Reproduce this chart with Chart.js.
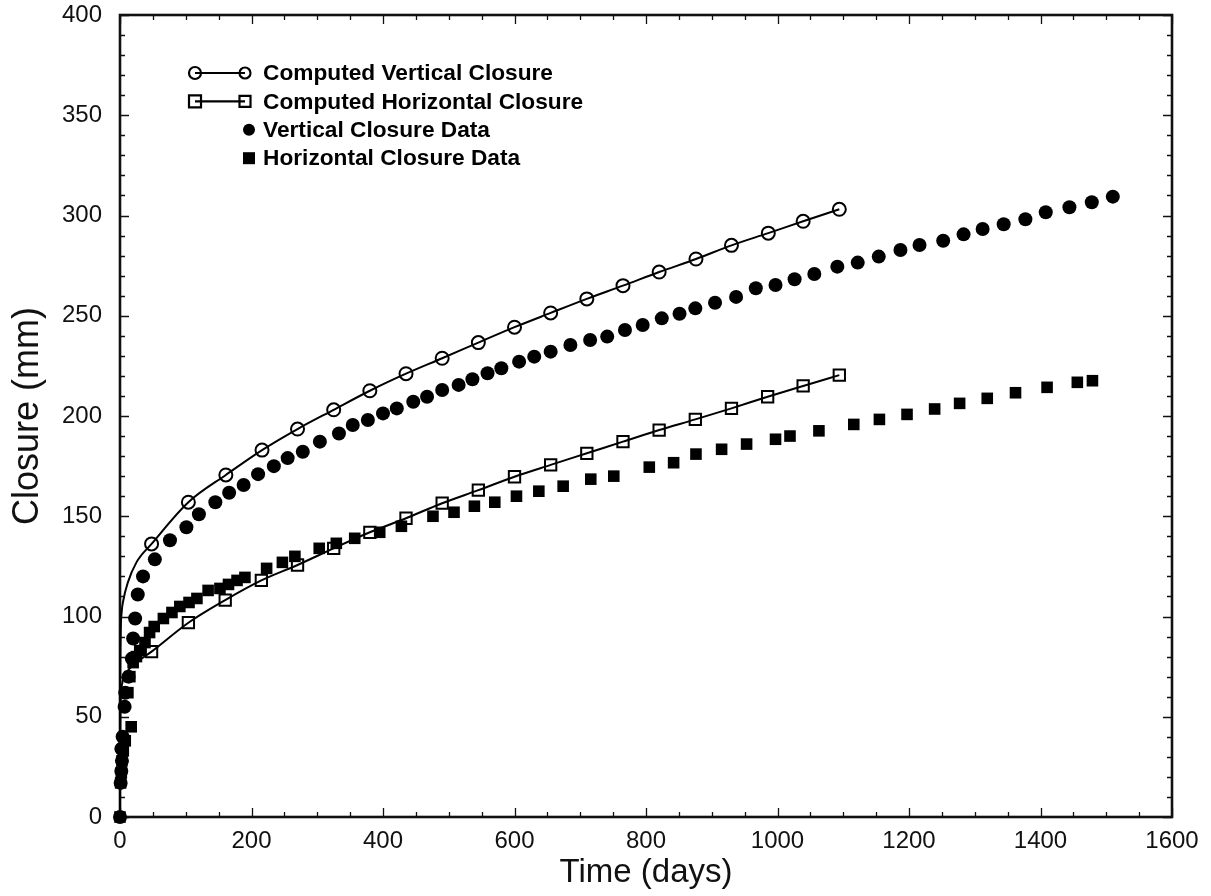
<!DOCTYPE html>
<html>
<head>
<meta charset="utf-8">
<script src="https://cdn.jsdelivr.net/npm/chart.js@4.4.1/dist/chart.umd.min.js"></script>
<style>
  html, body { margin: 0; padding: 0; background: #fff; }
</style>
</head>
<body>
<canvas id="myChart" width="1211" height="896"></canvas>
<script>
// measured data (days, mm)
const vertDataDays = [0, 1, 2, 3, 2, 4, 7, 8, 13, 18, 20, 23, 27, 35, 53, 76, 101, 120, 145, 166, 188, 210, 234, 255, 278, 304, 333, 354, 377, 400, 421, 446, 467, 490, 515, 536, 559, 580, 607, 630, 655, 685, 715, 741, 768, 795, 824, 851, 875, 905, 937, 967, 997, 1026, 1056, 1091, 1122, 1154, 1187, 1216, 1252, 1283, 1312, 1344, 1377, 1408, 1444, 1478, 1510];
const vertDataMm = [0, 17, 23, 28, 34, 40, 55, 62, 70, 79, 89, 99, 111, 120, 128.5, 138, 144.5, 151, 157, 161.7, 165.6, 171, 175, 179, 182.2, 187.2, 191.3, 195.5, 198, 201.3, 203.8, 207.1, 209.6, 213, 215.5, 218.3, 221.3, 223.8, 227.1, 229.6, 232.1, 235.4, 237.9, 239.6, 242.9, 245.4, 248.7, 251, 253.7, 256.5, 259.4, 263.7, 265.3, 268.2, 270.8, 274.5, 276.5, 279.5, 282.8, 285.3, 287.4, 290.6, 293.3, 295.6, 298.1, 301.6, 304.1, 306.6, 309.4];

const horzDataDays = [0, 1, 2, 3, 5, 8, 17, 12, 15, 20, 25, 30, 38, 45, 52, 66, 79, 91, 105, 117, 134, 152, 165, 178, 190, 223, 247, 266, 303, 329, 357, 395, 428, 476, 508, 539, 570, 603, 637, 674, 716, 751, 805, 842, 876, 915, 953, 997, 1019, 1063, 1116, 1155, 1197, 1239, 1277, 1319, 1362, 1410, 1456, 1479];
const horzDataMm = [0, 17, 22, 28, 33, 38, 45, 62, 70, 77, 80, 83, 87, 92, 95, 99, 102, 105, 107, 109, 113, 114, 116, 118, 119.5, 124, 127, 130, 134, 136.5, 139, 142, 145, 150, 152, 155, 157, 160, 162.5, 165, 168.5, 170, 174.5, 176.7, 181, 183.4, 186, 188.4, 190, 192.6, 195.8, 198.3, 200.8, 203.5, 206.3, 208.8, 211.6, 214.3, 216.8, 217.6];

// computed curves: early part of the curve (no markers), then marked points
const compVertStartDays = [0, 0.3, 1, 2.5, 5, 12, 25];
const compVertStartMm = [0, 60, 90, 102, 108, 117, 127];
const compVertDays = [48, 104, 161, 216, 270, 325, 380, 435, 490, 545, 600, 655, 710, 765, 820, 876, 930, 986, 1039, 1094];
const compVertMm = [136.2, 157, 170.6, 183, 193.5, 203.1, 212.6, 221.1, 228.8, 236.6, 244.3, 251.4, 258.4, 265, 271.8, 278.3, 285.1, 291.2, 297.1, 303.1];

const compHorzStartDays = [0, 0.3, 1, 3, 10, 25];
const compHorzStartMm = [0, 40, 58, 66, 72, 77];
const compHorzDays = [48, 104, 160, 215, 270, 325, 380, 435, 490, 545, 600, 655, 710, 765, 820, 875, 930, 985, 1039, 1094];
const compHorzMm = [82.5, 96.9, 108.2, 118, 125.7, 134, 142, 149, 156.5, 163, 169.7, 175.6, 181.4, 187.2, 193, 198.3, 203.8, 209.6, 215, 220.4];

const legendLabels = ['Computed Vertical Closure', 'Computed Horizontal Closure', 'Vertical Closure Data', 'Horizontal Closure Data'];

function pts(xs, ys) {
  return xs.map((x, i) => ({ x: x, y: ys[i] }));
}

const FONT = '"Liberation Sans", Arial, Helvetica, sans-serif';

// box + inward ticks on all four sides
const frameTicks = {
  id: 'frameTicks',
  beforeDatasetsDraw(chart) {
    const ctx = chart.ctx;
    const a = chart.chartArea;
    const xs = chart.scales.x, ys = chart.scales.y;
    ctx.save();
    ctx.strokeStyle = '#111';
    ctx.lineWidth = 1.3;
    ctx.beginPath();
    xs.ticks.forEach(t => {
      const px = Math.round(xs.getPixelForValue(t.value)) + 0.5;
      const len = t.value % 200 === 0 ? 9 : 5;
      ctx.moveTo(px, a.bottom); ctx.lineTo(px, a.bottom - len);
      ctx.moveTo(px, a.top); ctx.lineTo(px, a.top + len);
    });
    ys.ticks.forEach(t => {
      const py = Math.round(ys.getPixelForValue(t.value)) + 0.5;
      const len = t.value % 50 === 0 ? 9 : 5;
      ctx.moveTo(a.left, py); ctx.lineTo(a.left + len, py);
      ctx.moveTo(a.right, py); ctx.lineTo(a.right - len, py);
    });
    ctx.stroke();
    ctx.lineWidth = 2.6;
    ctx.strokeRect(a.left, a.top, a.right - a.left, a.bottom - a.top);
    ctx.restore();
  }
};

function marker(ctx, kind, x, y, r) {
  ctx.beginPath();
  if (kind === 'openCircle' || kind === 'dot') {
    ctx.arc(x, y, r, 0, Math.PI * 2);
  } else {
    ctx.rect(x - r, y - r, 2 * r, 2 * r);
  }
  if (kind === 'dot' || kind === 'box') ctx.fill(); else ctx.stroke();
}

const insideLegend = {
  id: 'insideLegend',
  afterDraw(chart) {
    const ctx = chart.ctx;
    ctx.save();
    ctx.fillStyle = '#000';
    ctx.strokeStyle = '#000';
    ctx.lineWidth = 2.2;
    ctx.font = 'bold 22.7px ' + FONT;
    ctx.textBaseline = 'middle';
    const kinds = ['openCircle', 'openSquare', 'dot', 'box'];
    legendLabels.forEach((lab, i) => {
      const y = 73 + i * 28.4;
      if (i < 2) {
        ctx.beginPath();
        ctx.moveTo(195, y); ctx.lineTo(245, y);
        ctx.stroke();
        marker(ctx, kinds[i], 195, y, 6);
        marker(ctx, kinds[i], 245, y, 5.5);
      } else {
        marker(ctx, kinds[i], 249, y, 6);
      }
      ctx.fillText(lab, 263, y + 1);
    });
    ctx.restore();
  }
};

const canvas = document.getElementById('myChart');

const myChart = new Chart(canvas, {
  type: 'scatter',
  data: {
    datasets: [
      {
        label: legendLabels[0],
        data: pts(compVertStartDays.concat(compVertDays), compVertStartMm.concat(compVertMm)),
        showLine: true,
        clip: 12,
        borderColor: '#000',
        borderWidth: 2,
        cubicInterpolationMode: 'monotone',
        pointStyle: 'circle',
        pointRadius: c => c.dataIndex < compVertStartDays.length ? 0 : 6.5,
        pointBorderWidth: 2,
        pointBackgroundColor: 'rgba(0,0,0,0)',
        pointBorderColor: '#000'
      },
      {
        label: legendLabels[1],
        data: pts(compHorzStartDays.concat(compHorzDays), compHorzStartMm.concat(compHorzMm)),
        showLine: true,
        clip: 12,
        borderColor: '#000',
        borderWidth: 2,
        cubicInterpolationMode: 'monotone',
        pointStyle: 'rect',
        pointRadius: c => c.dataIndex < compHorzStartDays.length ? 0 : 8,
        pointBorderWidth: 2,
        pointBackgroundColor: 'rgba(0,0,0,0)',
        pointBorderColor: '#000'
      },
      {
        label: legendLabels[2],
        data: pts(vertDataDays, vertDataMm),
        showLine: false,
        clip: 12,
        pointStyle: 'circle',
        pointRadius: 7,
        pointBorderWidth: 0,
        pointBackgroundColor: '#000',
        pointBorderColor: '#000'
      },
      {
        label: legendLabels[3],
        data: pts(horzDataDays, horzDataMm),
        showLine: false,
        clip: 12,
        pointStyle: 'rect',
        pointRadius: 8.2,
        pointBorderWidth: 0,
        pointBackgroundColor: '#000',
        pointBorderColor: '#000'
      }
    ]
  },
  options: {
    responsive: false,
    animation: false,
    devicePixelRatio: 1,
    layout: { padding: { top: 15, right: 39, left: 0, bottom: 0 } },
    plugins: {
      legend: { display: false },
      tooltip: { enabled: false }
    },
    scales: {
      x: {
        type: 'linear',
        min: 0,
        max: 1600,
        grid: { display: false },
        border: { display: false },
        ticks: {
          stepSize: 50,
          autoSkip: false,
          maxRotation: 0,
          minRotation: 0,
          padding: 2,
          color: '#111',
          font: { family: FONT, size: 24 },
          callback: v => v % 200 === 0 ? String(v) : ''
        },
        title: {
          display: true,
          text: 'Time (days)',
          color: '#111',
          font: { family: FONT, size: 33 },
          padding: { top: 0, bottom: 3 }
        },
        afterFit: s => { s.height = 79; s.paddingLeft = 0; s.paddingRight = 0; }
      },
      y: {
        type: 'linear',
        min: 0,
        max: 400,
        grid: { display: false },
        border: { display: false },
        ticks: {
          stepSize: 10,
          autoSkip: false,
          padding: 10,
          color: '#111',
          font: { family: FONT, size: 24 },
          callback: v => v % 50 === 0 ? String(v) : ''
        },
        title: {
          display: true,
          text: 'Closure (mm)',
          color: '#111',
          font: { family: FONT, size: 36 },
          padding: { top: 6, bottom: 0 }
        },
        afterFit: s => { s.width = 120; s.paddingTop = 0; s.paddingBottom = 0; }
      }
    }
  },
  plugins: [frameTicks, insideLegend]
});
</script>
</body>
</html>
